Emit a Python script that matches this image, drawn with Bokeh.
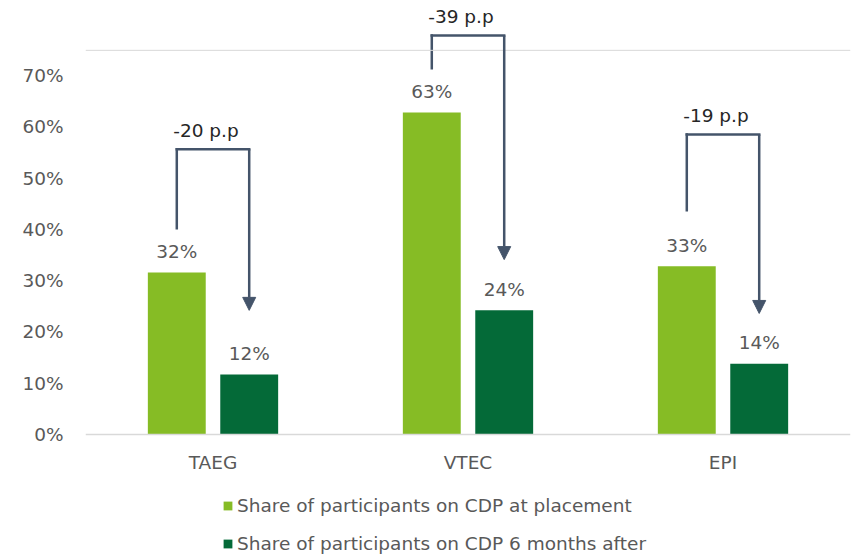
from bokeh.plotting import figure
from bokeh.models import (ColumnDataSource, FactorRange, Range1d, FixedTicker, PrintfTickFormatter,
                          Legend, LegendItem, Arrow, NormalHead, Span)
from bokeh.transform import dodge
from bokeh.core.properties import value
from bokeh.embed import file_html
from bokeh.resources import INLINE

# ---- data ----
categories = ["TAEG", "VTEC", "EPI"]
at_placement = [31.6, 62.8, 32.8]
six_months_after = [11.7, 24.2, 13.8]
series_names = ["Share of participants on CDP at placement",
                "Share of participants on CDP 6 months after"]
change_labels = ["-20 p.p", "-39 p.p", "-19 p.p"]
bracket_start = [40.2, 71.4, 43.7]
bracket_level = [55.6, 77.8, 58.5]
arrow_end = [24.2, 34.1, 23.6]
y_ticks = [0, 10, 20, 30, 40, 50, 60, 70]

LIGHT = "#86BC25"
DARK = "#046A38"
ARROW = "#44546A"
GREY_TXT = "#595959"
FONT = "DejaVu Sans"
FS = "18.5px"

src = ColumnDataSource(dict(
    cat=categories,
    a=at_placement,
    b=six_months_after,
    la=[f"{round(v)}%" for v in at_placement],
    lb=[f"{round(v)}%" for v in six_months_after],
    start=bracket_start,
    level=bracket_level,
    end=arrow_end,
    change=change_labels,
))

# frame runs to the bottom of the page; 0% sits at 434 px from the top
p = figure(x_range=FactorRange(*categories), y_range=Range1d(-23.79, 84.62),
           frame_width=765, frame_height=556,
           min_border_left=85, min_border_right=18, min_border_top=0, min_border_bottom=0,
           output_backend="svg", toolbar_location=None)

p.outline_line_color = None
p.xgrid.grid_line_color = None
p.ygrid.grid_line_color = None
p.background_fill_color = "white"
p.border_fill_color = "white"

# top thin rule
p.add_layout(Span(location=74.9, dimension="width", line_color="#D9D9D9", line_width=1))

OFF = 0.142
xa = dodge("cat", -OFF, range=p.x_range)
xb = dodge("cat", OFF, range=p.x_range)

r1 = p.vbar(x=xa, top="a", bottom=0, width=0.227, source=src, fill_color=LIGHT, line_color=None)
r2 = p.vbar(x=xb, top="b", bottom=0, width=0.227, source=src, fill_color=DARK, line_color=None)

lab_kw = dict(text_align="center", text_baseline="alphabetic", y_offset=-21,
              text_font=value(FONT), text_font_size=value(FS), text_color=GREY_TXT)
p.text(x=xa, y="a", text="la", source=src, **lab_kw)
p.text(x=xb, y="b", text="lb", source=src, **lab_kw)

# brackets
p.segment(x0=xa, y0="start", x1=xa, y1="level", source=src,
          line_color=ARROW, line_width=2.5, line_cap="square")
p.segment(x0=xa, y0="level", x1=xb, y1="level", source=src,
          line_color=ARROW, line_width=2.5, line_cap="square")
p.add_layout(Arrow(x_start=xb, y_start="level", x_end=xb, y_end="end", source=src,
                   line_color=ARROW, line_width=2.5,
                   end=NormalHead(size=13, fill_color=ARROW, line_color=ARROW, line_width=1)))
p.text(x="cat", y="level", text="change", source=src, text_align="center",
       text_baseline="alphabetic", y_offset=-19, x_offset=-7,
       text_font=value(FONT), text_font_size=value(FS), text_color="#262626")

# axes
p.xaxis.fixed_location = 0
p.xaxis.axis_line_color = "#D9D9D9"
p.xaxis.axis_line_width = 1.5
p.xaxis.major_tick_line_color = None
p.xaxis.minor_tick_line_color = None
p.xaxis.major_tick_out = 0
p.xaxis.major_tick_in = 0
p.xaxis.major_label_standoff = 18
p.xaxis.major_label_text_font = FONT
p.xaxis.major_label_text_font_size = FS
p.xaxis.major_label_text_color = GREY_TXT

p.yaxis.ticker = FixedTicker(ticks=y_ticks)
p.yaxis.formatter = PrintfTickFormatter(format="%d%%")
p.yaxis.axis_line_color = None
p.yaxis.major_tick_line_color = None
p.yaxis.minor_tick_line_color = None
p.yaxis.major_tick_out = 0
p.yaxis.major_tick_in = 0
p.yaxis.major_label_standoff = 22
p.yaxis.major_label_text_font = FONT
p.yaxis.major_label_text_font_size = FS
p.yaxis.major_label_text_color = GREY_TXT

legend = Legend(items=[LegendItem(label=series_names[0], renderers=[r1]),
                       LegendItem(label=series_names[1], renderers=[r2])],
                orientation="vertical", location=(137, 2),
                glyph_width=11, glyph_height=11, label_standoff=4,
                label_height=22, spacing=16, padding=0, margin=0,
                label_text_font=FONT, label_text_font_size=FS,
                label_text_color=GREY_TXT,
                border_line_color=None, background_fill_alpha=0)
p.add_layout(legend)

open("out.html", "w").write(file_html(p, INLINE))
